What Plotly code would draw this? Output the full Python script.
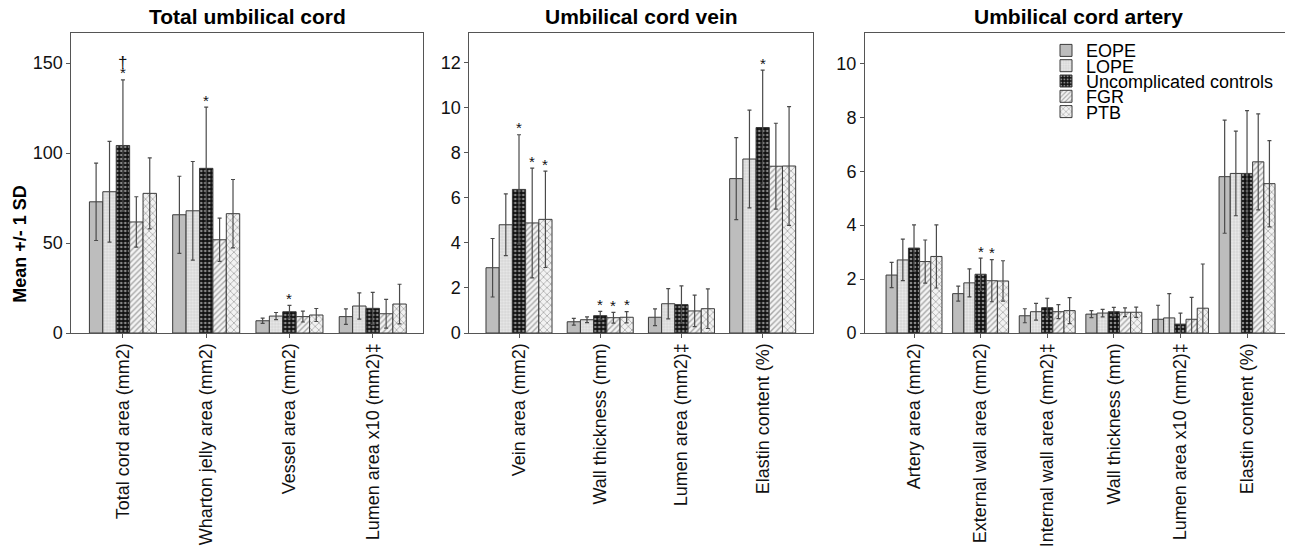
import plotly.graph_objects as go

groups = ["EOPE", "LOPE", "Uncomplicated controls", "FGR", "PTB"]

# ---- Panel 1: Total umbilical cord ----
total_cats = ["Total cord area (mm2)", "Wharton jelly area (mm2)", "Vessel area (mm2)", "Lumen area x10 (mm2)‡"]
total_means = [
    [72.9, 65.7, 6.8, 9.1],     # EOPE
    [78.5, 67.9, 9.4, 15.0],    # LOPE
    [104.2, 91.5, 11.8, 13.7],  # Uncomplicated controls
    [61.7, 51.8, 9.1, 10.7],    # FGR
    [77.6, 66.3, 10.0, 16.1],   # PTB
]
total_sds = [
    [21.5, 21.4, 1.5, 4.3],
    [28.0, 27.4, 2.0, 7.3],
    [36.5, 34.0, 3.5, 8.9],
    [14.0, 12.0, 3.0, 8.0],
    [19.7, 19.0, 3.6, 11.0],
]

# ---- Panel 2: Umbilical cord vein ----
vein_cats = ["Vein area (mm2)", "Wall thickness (mm)", "Lumen area (mm2)‡", "Elastin content (%)"]
vein_means = [
    [2.90, 0.50, 0.70, 6.86],
    [4.81, 0.59, 1.30, 7.73],
    [6.38, 0.77, 1.26, 9.13],
    [4.89, 0.68, 0.98, 7.41],
    [5.05, 0.70, 1.08, 7.42],
]
vein_sds = [
    [1.30, 0.15, 0.37, 1.82],
    [1.37, 0.13, 0.67, 2.17],
    [2.43, 0.19, 0.83, 2.55],
    [2.44, 0.24, 0.70, 1.91],
    [2.14, 0.25, 0.88, 2.64],
]

# ---- Panel 3: Umbilical cord artery ----
artery_cats = ["Artery area (mm2)", "External wall area (mm2)", "Internal wall area (mm2)‡",
               "Wall thickness (mm)", "Lumen area x10 (mm2)‡", "Elastin content (%)"]
artery_means = [
    [2.15, 1.46, 0.64, 0.70, 0.51, 5.80],
    [2.71, 1.86, 0.79, 0.74, 0.56, 5.92],
    [3.15, 2.18, 0.94, 0.79, 0.33, 5.92],
    [2.65, 1.94, 0.79, 0.77, 0.51, 6.35],
    [2.84, 1.93, 0.83, 0.77, 0.92, 5.54],
]
artery_sds = [
    [0.47, 0.28, 0.26, 0.13, 0.52, 2.10],
    [0.77, 0.52, 0.31, 0.14, 0.90, 1.57],
    [0.86, 0.60, 0.35, 0.16, 0.41, 2.33],
    [0.80, 0.78, 0.26, 0.16, 0.81, 1.78],
    [1.17, 0.75, 0.48, 0.19, 1.64, 1.60],
]

# significance marks: (panel, category index, group index, symbol)
marks = [
    (0, 0, 2, "*"), (0, 0, 2, "†"), (0, 1, 2, "*"), (0, 2, 2, "*"),
    (1, 0, 2, "*"), (1, 0, 3, "*"), (1, 0, 4, "*"),
    (1, 1, 2, "*"), (1, 1, 3, "*"), (1, 1, 4, "*"),
    (1, 3, 2, "*"),
    (2, 1, 2, "*"), (2, 1, 3, "*"),
]

FONT = "Liberation Sans, Arial, sans-serif"
OFF = 8  # page body margin of the html page
W, H = 1293 - OFF, 551 - OFF
TOP, BOTTOM = 33.3 - OFF, 333.3 - OFF


def px(v):
    return v - OFF


styles = [
    dict(color="#bdbdbd"),
    dict(color="#dcdcdc", pattern=dict(shape=".", bgcolor="#d6d6d6", fgcolor="#fafafa", size=3, solidity=0.45, fillmode="overlay")),
    dict(color="#111111", pattern=dict(shape=".", bgcolor="#111111", fgcolor="#ffffff", size=4, solidity=0.35, fillmode="overlay")),
    dict(color="#ffffff", pattern=dict(shape="/", bgcolor="#f4f4f4", fgcolor="#5a5a5a", size=4, solidity=0.35, fillmode="overlay")),
    dict(color="#ffffff", pattern=dict(shape="x", bgcolor="#f2f2f2", fgcolor="#666666", size=5, solidity=0.3, fillmode="overlay")),
]

panels = [
    dict(cats=total_cats, means=total_means, sds=total_sds, title="Total umbilical cord",
         xdom=(71.3, 422.7), xr=(-0.62, 3.60), yr=(0, 166.7), tv=[0, 50, 100, 150], fill=0.805),
    dict(cats=vein_cats, means=vein_means, sds=vein_sds, title="Umbilical cord vein",
         xdom=(469.3, 812.7), xr=(-0.612, 3.616), yr=(0, 13.33), tv=[0, 2, 4, 6, 8, 10, 12], fill=0.813),
    dict(cats=artery_cats, means=artery_means, sds=artery_sds, title="Umbilical cord artery",
         xdom=(865.0, 1291.0), xr=(-0.736, 5.66), yr=(0, 11.13), tv=[0, 2, 4, 6, 8, 10], fill=0.84),
]

fig = go.Figure()
annotations = []
layout_axes = {}


def ypaper(y_ref):
    return (BOTTOM - px(y_ref)) / (BOTTOM - TOP)


for p, pan in enumerate(panels):
    xa = "x" if p == 0 else f"x{p+1}"
    ya = "y" if p == 0 else f"y{p+1}"
    n = len(pan["cats"])
    bw = pan["fill"] / 5
    for g in range(5):
        st = styles[g]
        marker = dict(color=st["color"], line=dict(color="#3a3a3a", width=1))
        if "pattern" in st:
            marker["pattern"] = st["pattern"]
        fig.add_trace(go.Bar(
            x=list(range(n)), y=pan["means"][g],
            width=bw, offset=-pan["fill"] / 2 + g * bw,
            marker=marker,
            error_y=dict(type="data", array=pan["sds"][g], color="#4a4a4a", thickness=1.2, width=2),
            name=groups[g], xaxis=xa, yaxis=ya,
            showlegend=(p == 2),
            legend=("legend" if g == 0 else f"legend{g+1}"),
        ))
    xkey = "xaxis" if p == 0 else f"xaxis{p+1}"
    ykey = "yaxis" if p == 0 else f"yaxis{p+1}"
    layout_axes[xkey] = dict(
        domain=[px(pan["xdom"][0]) / W, min(1.0, px(pan["xdom"][1]) / W)], range=list(pan["xr"]),
        tickmode="array", tickvals=list(range(n)), ticktext=pan["cats"], tickangle=-90,
        showline=True, mirror=True, linecolor="#555555", linewidth=1,
        ticks="outside", ticklen=4, tickcolor="#555555", ticklabelstandoff=-2,
        showgrid=False, zeroline=False, anchor=ya,
        tickfont=dict(family=FONT, size=18, color="#111111"),
    )
    layout_axes[ykey] = dict(
        range=list(pan["yr"]), tickvals=pan["tv"],
        showline=True, mirror=True, linecolor="#555555", linewidth=1,
        ticks="outside", ticklen=4, tickcolor="#555555",
        showgrid=False, zeroline=False, anchor=xa,
        tickfont=dict(family=FONT, size=18, color="#111111"),
    )
    cx = px((pan["xdom"][0] + pan["xdom"][1]) / 2) / W
    annotations.append(dict(text="<b>%s</b>" % pan["title"], x=cx, y=ypaper(17),
                            xref="paper", yref="paper", showarrow=False, xanchor="center", yanchor="middle",
                            font=dict(family=FONT, size=21, color="#000000")))

for (p, c, g, sym) in marks:
    pan = panels[p]
    bw = pan["fill"] / 5
    xpos = c - pan["fill"] / 2 + (g + 0.5) * bw
    top = pan["means"][g][c] + pan["sds"][g][c]
    xa = "x" if p == 0 else f"x{p+1}"
    ya = "y" if p == 0 else f"y{p+1}"
    if sym == "*":
        annotations.append(dict(text="*", x=xpos, y=top, xref=xa, yref=ya, showarrow=False,
                                xanchor="center", yanchor="middle", yshift=7,
                                font=dict(family=FONT, size=15, color="#111111")))
    else:
        annotations.append(dict(text=sym, x=xpos, y=top, xref=xa, yref=ya, showarrow=False,
                                xanchor="center", yanchor="middle", yshift=17,
                                font=dict(family=FONT, size=17, color="#111111")))

annotations.append(dict(text="<b>Mean +/- 1 SD</b>", x=px(20) / W, y=ypaper(244),
                        xref="paper", yref="paper", showarrow=False, textangle=-90,
                        xanchor="center", yanchor="middle",
                        font=dict(family=FONT, size=18, color="#000000")))

legend_rows = [51, 66.3, 81.6, 96.9, 112.2]
for g in range(5):
    key = "legend" if g == 0 else f"legend{g+1}"
    layout_axes[key] = dict(
        x=px(1046) / W, y=ypaper(legend_rows[g]), xanchor="left", yanchor="middle",
        bgcolor="rgba(0,0,0,0)", borderwidth=0,
        font=dict(family=FONT, size=18, color="#000000"),
        itemclick=False, itemdoubleclick=False,
    )

fig.update_layout(
    width=W, height=H,
    margin=dict(l=0, r=0, t=TOP, b=H - BOTTOM, pad=0),
    paper_bgcolor="white", plot_bgcolor="white",
    barmode="overlay",
    annotations=annotations,
    font=dict(family=FONT, size=18, color="#000000"),
    **layout_axes,
)

fig.write_html("out.html")
